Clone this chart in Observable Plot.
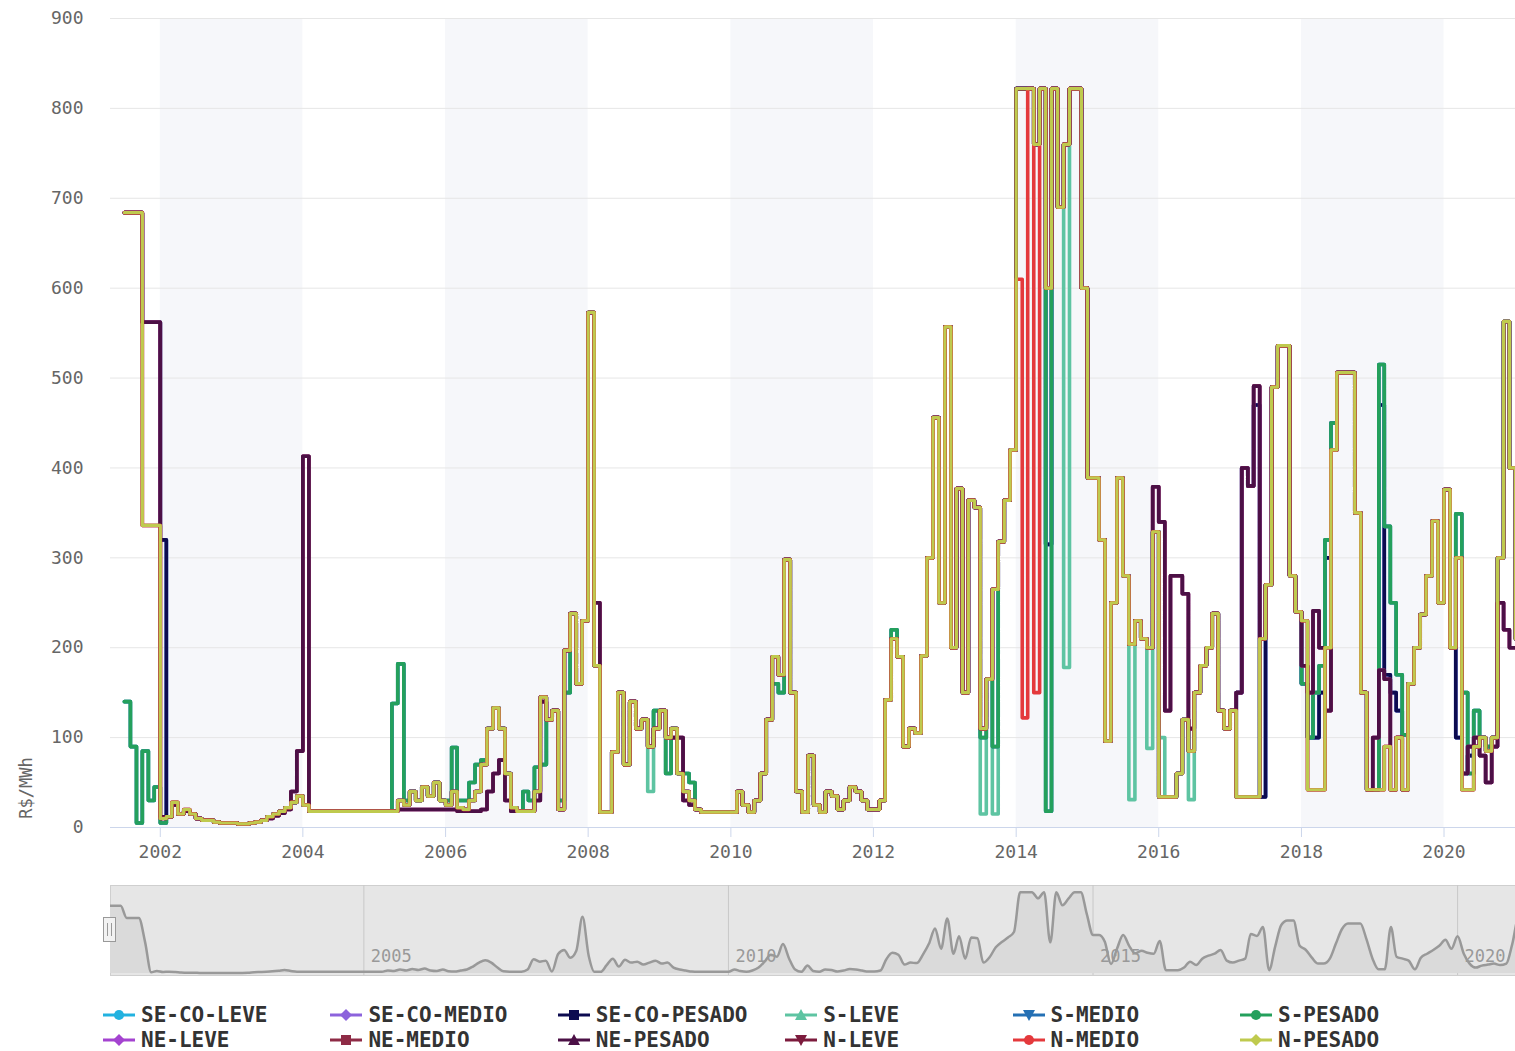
<!DOCTYPE html>
<html><head><meta charset="utf-8">
<script src="https://cdn.jsdelivr.net/npm/d3@7"></script>
<script src="https://cdn.jsdelivr.net/npm/@observablehq/plot@0.6"></script>
<style>
body{margin:0;background:#fff;font-family:"DejaVu Sans Mono",monospace;}
#wrap{position:relative;width:1515px;height:1051px;overflow:hidden;}
#main{position:absolute;left:0;top:0;}
#nav{position:absolute;left:0;top:872px;}
.item{position:absolute;display:flex;align-items:center;font-weight:bold;font-size:21px;line-height:20px;color:#333;height:20px;white-space:nowrap;}
.item svg{margin-right:6px;}
</style></head><body><div id="wrap"><div id="main"></div><div id="nav"></div><div id="legend"></div></div>
<script>
// ---- DATA (monthly, Jul 2001 .. Jan 2021), R$/MWh ----
const seco = [
684,684,684,562,562,562,
320,12,25,15,18,15,10,8,8,6,5,5,
5,4,4,5,6,8,12,15,18,22,28,35,
25,18,18,18,18,18,18,18,18,18,18,18,
18,18,18,18,30,25,40,30,45,35,50,30,
25,40,22,20,30,40,70,110,133,110,60,22,
18,18,18,40,145,120,130,20,197,238,160,230,
573,180,17,17,84,150,70,140,110,120,90,110,
130,100,110,60,40,30,20,17,17,17,17,17,
17,40,25,17,30,60,120,190,170,298,150,40,
17,80,25,17,40,35,20,30,45,40,30,20,
20,30,142,210,190,90,110,105,191,300,456,250,
557,200,377,150,364,356,110,165,265,318,364,420,
822,822,822,760,822,315,822,690,760,822,822,600,
389,389,320,96,250,389,280,204,230,210,200,329,
34,34,34,60,120,85,150,180,200,238,130,110,
130,150,400,380,470,34,270,490,536,536,280,240,
160,100,100,150,300,450,506,506,506,350,150,42,
42,470,170,150,130,42,160,200,237,280,341,250,
376,200,100,60,80,90,100,85,100,300,563,400,
210];
const sul = [
140,90,5,85,30,45,
5,12,25,15,18,15,10,8,8,6,5,5,
5,4,4,5,6,8,12,15,18,22,28,35,
25,18,18,18,18,18,18,18,18,18,18,18,
18,18,18,138,182,30,40,30,45,35,50,30,
30,89,30,30,50,70,75,110,133,110,60,22,
18,40,30,67,70,120,130,30,150,238,160,230,
573,180,17,17,84,150,70,140,110,120,90,130,
130,60,110,60,60,50,20,17,17,17,17,17,
17,40,25,17,30,60,120,160,150,298,150,40,
17,80,25,17,40,35,20,30,45,40,30,20,
20,30,142,220,190,90,110,105,191,300,456,250,
557,200,377,150,364,356,100,165,90,318,364,420,
822,822,822,760,822,18,822,690,760,822,822,600,
389,389,320,96,250,389,280,204,230,210,200,329,
34,34,34,60,120,85,150,180,200,238,130,110,
130,34,34,34,34,210,270,490,536,536,280,240,
160,100,150,180,320,450,506,506,506,350,150,42,
42,515,335,250,170,103,160,200,237,280,341,250,
376,200,349,150,60,130,100,90,100,300,563,400,
210];
const sulLeve = [
140,90,5,85,30,45,
5,12,25,15,18,15,10,8,8,6,5,5,
5,4,4,5,6,8,12,15,18,22,28,35,
25,18,18,18,18,18,18,18,18,18,18,18,
18,18,18,138,182,30,40,30,45,35,50,30,
30,89,30,30,50,70,75,110,133,110,60,22,
18,40,30,67,70,120,130,30,150,238,160,230,
573,180,17,17,84,150,70,140,110,120,40,130,
130,60,110,60,60,50,20,17,17,17,17,17,
17,40,25,17,30,60,120,160,150,298,150,40,
17,80,25,17,40,35,20,30,45,40,30,20,
20,30,142,220,190,90,110,105,191,300,456,250,
557,200,377,150,364,356,15,165,15,318,364,420,
822,822,822,760,822,18,822,690,178,822,822,600,
389,389,320,96,250,389,280,31,230,210,88,329,
100,34,34,60,120,31,150,180,200,238,130,110,
130,34,34,34,34,210,270,490,536,536,280,240,
160,100,150,180,320,450,506,506,506,350,150,42,
42,515,335,250,170,103,160,200,237,280,341,250,
376,200,349,150,60,130,100,90,100,300,563,400,
210];
const nordeste = [
684,684,684,562,562,562,
12,12,25,15,18,15,10,8,8,6,5,5,
5,4,4,5,6,8,10,13,16,20,40,85,
413,18,18,18,18,18,18,18,18,18,18,18,
18,18,18,18,20,20,20,20,20,20,20,20,
20,20,18,18,18,18,20,40,60,75,30,18,
18,18,18,30,140,120,130,20,197,238,160,230,
573,250,17,17,84,150,70,140,110,120,90,110,
130,100,100,100,30,25,20,17,17,17,17,17,
17,40,25,17,30,60,120,190,170,298,150,40,
17,80,25,17,40,35,20,30,45,40,30,20,
20,30,142,210,190,90,110,105,191,300,456,250,
557,200,377,150,364,356,110,165,265,318,364,420,
822,822,822,760,822,600,822,690,760,822,822,600,
389,389,320,96,250,389,280,204,230,210,200,379,
340,130,280,280,260,110,150,180,200,238,130,110,
130,150,400,380,491,210,270,490,536,536,280,240,
180,150,241,200,130,420,506,506,506,350,150,42,
100,175,165,42,100,42,160,200,237,280,341,250,
376,200,300,60,90,100,80,50,90,250,220,200,
200];
const norte = [
684,684,684,336,336,336,
10,12,28,15,20,15,10,8,8,6,5,5,
5,4,4,5,6,8,12,15,18,22,28,35,
25,18,18,18,18,18,18,18,18,18,18,18,
18,18,18,18,30,25,40,30,45,35,50,30,
25,40,22,20,30,40,70,110,133,110,60,22,
18,18,18,40,145,120,130,20,197,238,160,230,
573,180,17,17,84,150,70,140,110,120,90,110,
130,100,110,60,40,30,20,17,17,17,17,17,
17,40,25,17,30,60,120,190,170,298,150,40,
17,80,25,17,40,35,20,30,45,40,30,20,
20,30,142,210,190,90,110,105,191,300,456,250,
557,200,377,150,364,356,110,165,265,318,364,420,
822,822,822,760,822,600,822,690,760,822,822,600,
389,389,320,96,250,389,280,204,230,210,200,329,
34,34,34,60,120,85,150,180,200,238,130,110,
130,34,34,34,34,210,270,490,536,536,280,240,
230,42,42,42,200,420,506,506,506,350,150,42,
42,42,90,42,100,42,160,200,237,280,341,250,
376,200,300,42,42,90,100,85,100,300,563,400,
210];
const norteMedio = [
684,684,684,336,336,336,
10,12,28,15,20,15,10,8,8,6,5,5,
5,4,4,5,6,8,12,15,18,22,28,35,
25,18,18,18,18,18,18,18,18,18,18,18,
18,18,18,18,30,25,40,30,45,35,50,30,
25,40,22,20,30,40,70,110,133,110,60,22,
18,18,18,40,145,120,130,20,197,238,160,230,
573,180,17,17,84,150,70,140,110,120,90,110,
130,100,110,60,40,30,20,17,17,17,17,17,
17,40,25,17,30,60,120,190,170,298,150,40,
17,80,25,17,40,35,20,30,45,40,30,20,
20,30,142,210,190,90,110,105,191,300,456,250,
557,200,377,150,364,356,110,165,265,318,364,420,
610,122,822,150,822,600,822,690,760,822,822,600,
389,389,320,96,250,389,280,204,230,210,200,329,
34,34,34,60,120,85,150,180,200,238,130,110,
130,34,34,34,34,210,270,490,536,536,280,240,
230,42,42,42,200,420,506,506,506,350,150,42,
42,42,90,42,100,42,160,200,237,280,341,250,
376,200,300,42,42,90,100,85,100,300,563,400,
210];

const seriesNames = ["SE-CO-LEVE","SE-CO-MEDIO","SE-CO-PESADO","S-LEVE","S-MEDIO","S-PESADO",
                     "NE-LEVE","NE-MEDIO","NE-PESADO","N-LEVE","N-MEDIO","N-PESADO"];
const seriesColors = ["#22b2e0","#8c63dc","#0c0b50","#5ec4a2","#2470b4","#24a05c",
                      "#a443d0","#8e2b46","#4c1046","#7c1b3d","#e4393c","#bfca4e"];
const seriesSymbols = ["circle","diamond","square","triangle","triangle-down","circle",
                       "diamond","square","triangle","triangle-down","circle","diamond"];
const seriesValues = [seco, seco, seco, sulLeve, sul, sul, nordeste, nordeste, nordeste, norte, norteMedio, norte];
const yTicks = [0,100,200,300,400,500,600,700,800,900];
const xTickYears = [2002,2004,2006,2008,2010,2012,2014,2016,2018,2020];
const bandStartYears = [2002,2006,2010,2014,2018];
const navTickYears = [2005,2010,2015,2020];

// ---- build ----
const months = d3.utcMonth.range(new Date(Date.UTC(2001,6,1)), new Date(Date.UTC(2021,1,1)));
const Y = y => new Date(Date.UTC(y,0,1));
const series = seriesNames.map((name,i) => ({
  name, color: seriesColors[i], symbol: seriesSymbols[i],
  data: months.map((d,j) => ({date:d, value: seriesValues[i][j]}))
}));
const bands = bandStartYears.map(y => ({start:Y(y), end:Y(y+2)}));

const lineMarks = series.map(s => Plot.line(s.data, {
  x:"date", y:"value", stroke:s.color,
  strokeWidth: s.name === "N-PESADO" ? 3.2 : 3.6,
  curve:"step-after", clip:true
}));

const main = Plot.plot({
  width:1515, height:872,
  marginLeft:110, marginRight:0, marginTop:18, marginBottom:45,
  style:{fontFamily:"'DejaVu Sans Mono', monospace", fontSize:"18px", color:"#666", background:"#fff"},
  x:{type:"utc", domain:[new Date(Date.UTC(2001,3,21)), new Date(Date.UTC(2021,0,1))]},
  y:{domain:[0,900]},
  marks:[
    Plot.rect(bands, {x1:"start", x2:"end", fill:"#f6f7fa"}),
    Plot.gridY(yTicks, {stroke:"#e6e6e6", strokeOpacity:1}),
    Plot.axisY(yTicks, {tickSize:0, tickPadding:27, label:null, fontSize:18}),
    Plot.axisX(xTickYears.map(Y), {tickFormat:"%Y", tickSize:10, tickPadding:8, stroke:"#ccd6eb", label:null, fontSize:18}),
    Plot.ruleY([0], {stroke:"#ccd6eb", strokeWidth:1}),
    ...lineMarks
  ]
});
document.getElementById("main").appendChild(main);
d3.select(main).append("text")
  .attr("transform","translate(27,788) rotate(-90)")
  .attr("text-anchor","middle").attr("dominant-baseline","middle")
  .attr("fill","#666").style("font-size","17px").text("R$/MWh");

// ---- navigator ----
const navData = series[0].data;
const nav = Plot.plot({
  width:1515, height:115,
  marginLeft:110, marginRight:0, marginTop:13, marginBottom:12,
  style:{fontFamily:"'DejaVu Sans Mono', monospace", fontSize:"17px", color:"#999", background:"transparent"},
  x:{type:"utc", domain:[new Date(Date.UTC(2001,6,12)), new Date(Date.UTC(2020,9,17))], axis:null},
  y:{domain:[0,890], axis:null, insetBottom:2},
  marks:[
    Plot.frame({fill:"#e6e6e6", stroke:"#cfcfcf"}),
    Plot.ruleX(navTickYears.map(Y), {stroke:"#c8c8c8"}),
    Plot.areaY(navData, {x:"date", y:"value", fill:"#dadada", curve:"monotone-x", clip:true}),
    Plot.line(navData, {x:"date", y:"value", stroke:"#999", strokeWidth:2.5, curve:"monotone-x", clip:true}),
    Plot.text(navTickYears, {x:d=>Y(d), text:d=>String(d), frameAnchor:"bottom", textAnchor:"start", dx:7, dy:-14, fill:"#999", fontSize:17})
  ]
});
document.getElementById("nav").appendChild(nav);
const h = d3.select(nav).append("g");
h.append("rect").attr("x",103.5).attr("y",45.5).attr("width",12).attr("height",24).attr("fill","#f2f2f2").attr("stroke","#999");
h.append("line").attr("x1",107.5).attr("x2",107.5).attr("y1",51).attr("y2",64).attr("stroke","#999");
h.append("line").attr("x1",111.5).attr("x2",111.5).attr("y1",51).attr("y2",64).attr("stroke","#999");

// ---- legend ----
function symbolPath(sym){
  switch(sym){
    case "circle": return d3.symbol(d3.symbolCircle, 80)();
    case "diamond": return "M0,-6L6,0L0,6L-6,0Z";
    case "square": return "M-5,-5H5V5H-5Z";
    case "triangle": return "M0,-6L6,5L-6,5Z";
    case "triangle-down": return "M0,6L6,-5L-6,-5Z";
  }
}
const legend = document.getElementById("legend");
series.forEach((s,i) => {
  const col = i % 6, row = Math.floor(i/6);
  const div = document.createElement("div");
  div.className = "item";
  div.style.left = (103 + col*227.4) + "px";
  div.style.top = (1005 + row*25) + "px";
  div.innerHTML = `<svg width="32" height="16"><line x1="0" x2="32" y1="8" y2="8" stroke="${s.color}" stroke-width="3"/><path transform="translate(16,8)" d="${symbolPath(s.symbol)}" fill="${s.color}"/></svg><span>${s.name}</span>`;
  legend.appendChild(div);
});
</script></body></html>
